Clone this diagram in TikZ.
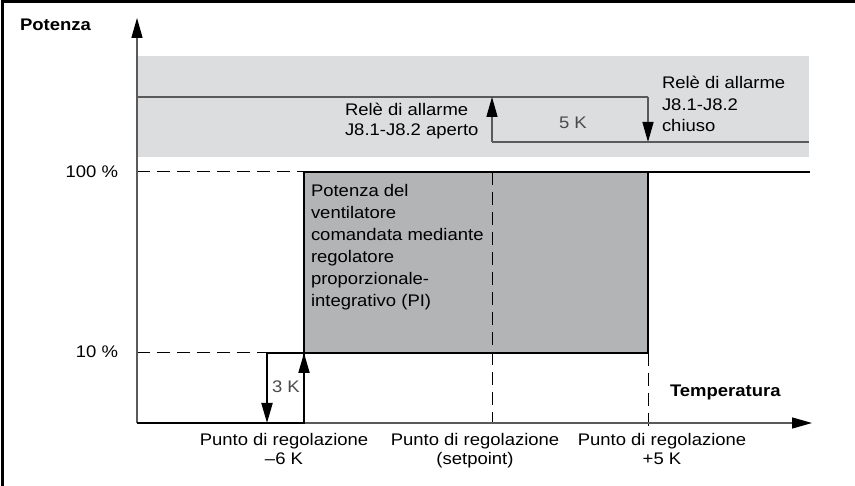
\documentclass[tikz,border=0pt]{standalone}
\usepackage{fontspec}
\setmainfont{Liberation Sans}[FakeStretch=1.1]
\usetikzlibrary{arrows.meta}
\definecolor{bandgray}{HTML}{DCDDDF}
\definecolor{boxgray}{HTML}{B3B4B6}
\definecolor{axisgray}{HTML}{5A5A5A}
\definecolor{dimtext}{HTML}{4A4A4A}
\begin{document}
\begin{tikzpicture}[x=1pt,y=-1pt,
  lbl/.style={font=\fontsize{16.8}{21.5}\selectfont, inner sep=0pt, outer sep=0pt},
  boldlbl/.style={font=\fontsize{16.8}{21.5}\selectfont\bfseries, inner sep=0pt, outer sep=0pt},
  thinline/.style={line width=1.3pt, draw=axisgray},
  stepline/.style={line width=2.4pt, draw=black},
  dashline/.style={line width=1pt, draw=black, dash pattern=on 13pt off 7pt},
  bigtip/.style={-{Triangle[length=20pt,width=11pt,color=black]}},
]
\useasboundingbox (0,0) rectangle (855,486);
% frame
\draw[line width=3pt] (2,486) -- (2,2) -- (855,2);
% areas
\fill[bandgray] (137,56) rectangle (809,157);
\fill[boxgray] (304,172) rectangle (648,353);
% coordinates
\coordinate (O) at (137,423);
\coordinate (Ytop) at (137,18);
\coordinate (Xend) at (812,423);
\coordinate (Rhi0) at (137,97);
\coordinate (Rhi1) at (648,97);
\coordinate (Rlo1) at (648,142);
\coordinate (Rlo0) at (492,142);
\coordinate (Rhi2) at (492,97);
\coordinate (Rlo2) at (809,142);
\coordinate (L100) at (137,172);
\coordinate (L10) at (137,353);
\coordinate (A) at (267,353);
\coordinate (Abot) at (267,423);
\coordinate (B) at (304,423);
\coordinate (Bmid) at (304,353);
\coordinate (Btop) at (304,172);
\coordinate (C) at (648,172);
\coordinate (Cbot) at (648,353);
\coordinate (Cax) at (648,433);
\coordinate (Tend) at (810,172);
\coordinate (Stop) at (492,172);
\coordinate (Sbot) at (492,423);
% relay lines
\draw[thinline] (Rhi0) -- (Rhi1);
\draw[thinline,bigtip] (Rhi1) -- (Rlo1);
\draw[thinline] (Rlo0) -- (Rlo2);
\draw[thinline,bigtip] (Rlo0) -- (Rhi2);
% dashed guides
\draw[dashline] (L100) -- (Btop);
\draw[dashline] (L10) -- (A);
\draw[dashline] (Stop) -- (Sbot);
\draw[dashline] (Cbot) -- (Cax);
% axes
\draw[thinline,bigtip] (O) -- (Ytop);
\draw[thinline,bigtip] (O) -- (Xend);
% step curve
\draw[stepline] (O) -- (B) -- (Btop) -- (Tend);
\draw[stepline] (A) -- (Cbot) -- (C);
\draw[line width=2pt,bigtip] (A) -- (Abot);
\draw[line width=2pt,bigtip] (B) -- (Bmid);
% texts (multi-line nodes: base = baseline of last line)
\node[boldlbl,anchor=base west] (potenza) at (20,31) {Potenza};
\node[boldlbl,anchor=base west] (temp) at (670,397) {Temperatura};
\node[lbl,anchor=base east] (p100) at (118,178) {100 \%};
\node[lbl,anchor=base east] (p10) at (118,358) {10 \%};
\node[lbl,anchor=base west,align=left,font=\fontsize{16.8}{20.5}\selectfont] (aperto) at (345,136) {Relè di allarme\\J8.1-J8.2 aperto};
\node[lbl,anchor=base west,align=left] (chiuso) at (662,132) {Relè di allarme\\J8.1-J8.2\\chiuso};
\node[lbl,anchor=base west,text=dimtext] (cinqueK) at (559,129) {5 K};
\node[lbl,anchor=base west,text=dimtext] (treK) at (272,393) {3 K};
\node[lbl,anchor=base west,align=left,font=\fontsize{16.8}{22}\selectfont] (pi) at (311,307) {Potenza del\\ventilatore\\comandata mediante\\regolatore\\proporzionale-\\integrativo (PI)};
\node[lbl,anchor=base,align=center,font=\fontsize{16.8}{20}\selectfont] (pm6) at (284,465) {Punto di regolazione\\–6 K};
\node[lbl,anchor=base,align=center,font=\fontsize{16.8}{20}\selectfont] (psp) at (475,465) {Punto di regolazione\\(setpoint)};
\node[lbl,anchor=base,align=center,font=\fontsize{16.8}{20}\selectfont] (pp5) at (662,465) {Punto di regolazione\\+5 K};
\end{tikzpicture}
\end{document}
